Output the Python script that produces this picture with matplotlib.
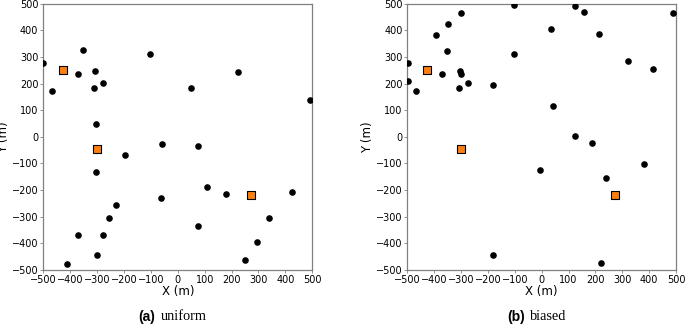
import matplotlib.pyplot as plt

# Puntos (usuarios) - distribucion uniforme
uni_x = [-500, -468, -354, -371, -307, -310, -277, -103, 50, 222, 490,
         -304, -59, 74, -196,
         -305, -371, -412, -299, -277, -255, -228, -61, 75, 108, 179,
         423, 338, 294, 251]
uni_y = [278, 172, 325, 236, 246, 183, 201, 310, 183, 242, 137,
         49, -27, -36, -67,
         -132, -368, -478, -445, -368, -306, -256, -229, -333, -190, -215,
         -209, -305, -395, -462]

# Puntos (usuarios) - distribucion sesgada
bia_x = [-497, -496, -468, -392, -350, -300, -354, -370, -305, -300, -309,
         -275, -181, -103, -102, 33, 42, 124, 159, 213, 323, 414, 490,
         124, 187, 380, -6, 239, -181, 221]
bia_y = [278, 208, 172, 382, 424, 466, 324, 236, 246, 235, 183,
         201, 196, 496, 310, 406, 115, 490, 470, 385, 286, 253, 464,
         2, -23, -101, -123, -155, -442, -475]

# Estaciones base
bs_x = [-428, -300, 272]
bs_y = [252, -44, -220]

# (x, y, etiqueta, nombre, posicion de ejes, borde derecho etiqueta, borde izq. nombre)
panels = [
    (uni_x, uni_y, "(a)", "uniform", [0.0632, 0.1667, 0.3927, 0.822], 0.2263, 0.2350),
    (bia_x, bia_y, "(b)", "biased", [0.5946, 0.1667, 0.3923, 0.822], 0.7664, 0.7737),
]

fig = plt.figure(figsize=(6.85, 3.24), dpi=100)

for xs, ys, tag, name, pos, tx, nx in panels:
    ax = fig.add_axes(pos)
    ax.scatter(xs, ys, s=14, c="black", zorder=3)
    ax.scatter(bs_x, bs_y, s=40, marker="s", c="#ff7f0e",
               edgecolors="black", linewidths=0.8, zorder=4)
    ax.set_xlim(-500, 500)
    ax.set_ylim(-500, 500)
    ax.set_xticks(range(-500, 501, 100))
    ax.set_yticks(range(-500, 501, 100))
    ax.tick_params(labelsize=7, length=2.5, width=0.6, color="#808080", pad=1)
    for sp in ax.spines.values():
        sp.set_color("#808080")
        sp.set_linewidth(0.9)
    ax.set_xlabel("X (m)", fontsize=8.5, labelpad=0)
    ax.set_ylabel("Y (m)", fontsize=8.5, labelpad=1)

    # Subtitulo: etiqueta en negrita + nombre en serif
    fig.text(tx, 0.022, tag, ha="right", va="center",
             fontsize=10, fontweight="bold", family="Liberation Sans")
    fig.text(nx, 0.022, name, ha="left", va="center",
             fontsize=10.3, family="Liberation Serif")

plt.savefig("out.png", dpi=100)
plt.close()
